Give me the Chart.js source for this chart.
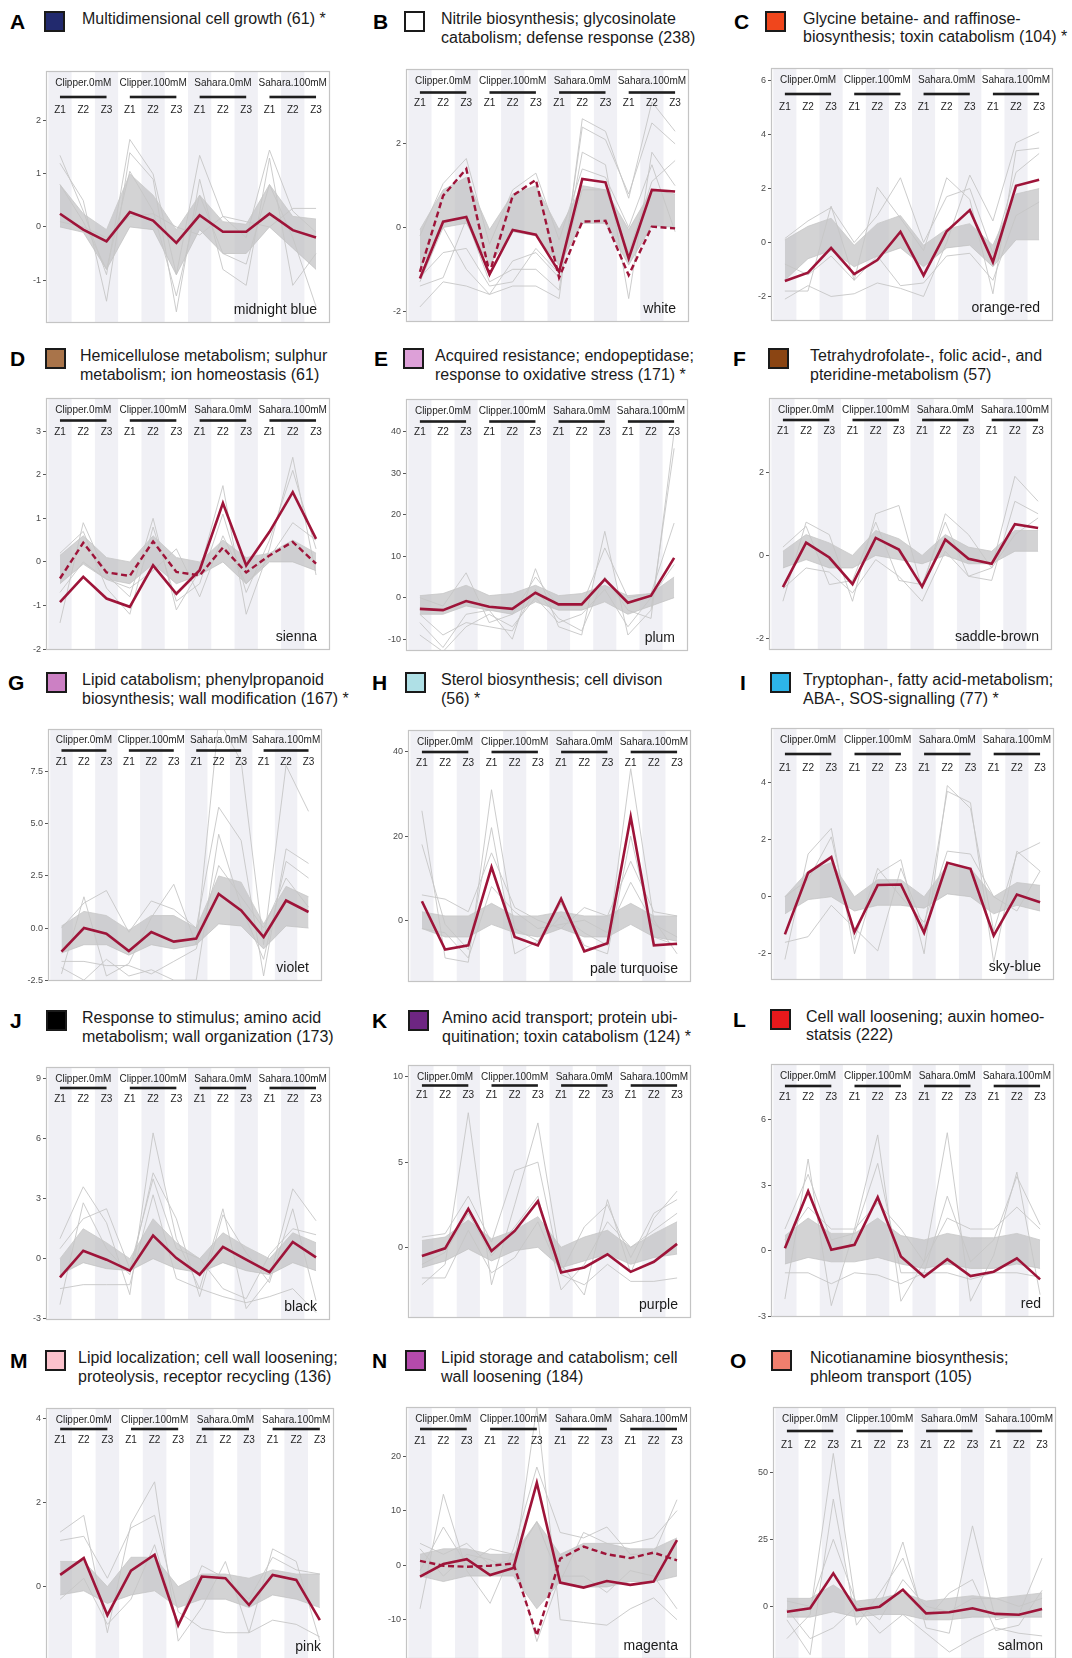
<!DOCTYPE html>
<html><head><meta charset="utf-8">
<script src="https://cdn.jsdelivr.net/npm/chart.js@4.4.1/dist/chart.umd.min.js"></script>
<style>
body{margin:0;width:1072px;height:1658px;overflow:hidden;background:#fff;position:relative;font-family:"Liberation Sans",Arial,sans-serif}
.letter{position:absolute;font-weight:bold;font-size:21px;line-height:22px;color:#000}
.sw{position:absolute;width:17px;height:17px;border:2px solid #1a1a1a}
.ttl{position:absolute;font-size:16px;line-height:18.5px;color:#1a1a1a;white-space:nowrap}
.wrap{position:absolute}
</style></head><body>
<script>
// ---------- shared axis data ----------
const categories = ['Z1','Z2','Z3','Z1','Z2','Z3','Z1','Z2','Z3','Z1','Z2','Z3'];
const groups = ['Clipper.0mM','Clipper.100mM','Sahara.0mM','Sahara.100mM'];

// ---------- A midnight blue ----------
const redA  = [0.25,-0.05,-0.27,0.28,0.12,-0.30,0.22,-0.09,-0.09,0.25,-0.06,-0.20];
const hiA   = [0.8,0.25,-0.05,1.0,0.6,-0.05,0.6,0.1,0.05,0.8,0.2,0.15];
const loA   = [0.0,-0.1,-0.8,0.0,-0.05,-0.9,-0.05,-0.5,-0.5,0.0,-0.4,-0.8];
const greyA = [[1.35,0.3,-0.9,1.65,1.0,-0.9,1.35,0.2,-0.2,1.45,0.3,-0.1],
               [1.2,0.5,-1.4,1.4,0.9,-1.6,0.9,-0.8,-1.1,1.3,-1.1,-0.5],
               [0.8,0.1,-0.8,1.05,0.3,-1.3,0.6,-0.5,-0.7,0.8,-0.2,-1.5],
               [0.1,0.0,-0.2,0.2,0.25,0.0,-0.15,0.2,0.1,0.0,0.35,0.35]];
const ticksA = [-1,0,1,2];

// ---------- B white ----------
const redB  = [-1.22,0.14,0.25,-1.12,-0.06,-0.17,-1.06,1.16,1.08,-0.74,0.90,0.86];
const dashB = [-1.06,0.76,1.40,-1.09,0.76,1.14,-1.20,0.14,0.16,-1.14,0.02,-0.02];
const hiB   = [-0.05,0.9,1.2,-0.05,0.8,1.0,-0.05,1.0,0.9,-0.05,0.9,0.8];
const loB   = [-1.0,0.0,0.1,-0.9,-0.1,-0.2,-0.9,0.1,0.1,-0.9,0.05,0.0];
const greyB = [[-1.9,-1.3,-1.4,-1.6,-1.4,-1.4,-1.7,2.6,2.3,0.7,3.0,2.3],
               [-1.4,-1.2,0.2,-1.3,-1.0,-1.0,-1.5,2.4,2.1,0.8,2.5,2.0],
               [-1.3,0.0,-1.0,-1.6,-0.8,-0.6,-1.2,1.8,1.5,-1.7,1.8,1.0],
               [-0.2,1.05,1.65,-0.4,0.9,1.3,-0.3,1.4,1.2,0.0,1.5,-0.1],
               [-1.2,-0.6,-0.5,-1.4,-1.3,-0.5,-1.1,0.9,0.9,-0.6,1.1,1.6]];
const ticksB = [-2,0,2];

// ---------- C orange-red ----------
const redC  = [-1.43,-1.12,-0.20,-1.17,-0.65,0.40,-1.22,0.42,1.20,-0.72,2.10,2.33];
const hiC   = [0.1,0.6,0.9,-0.1,0.7,1.0,-0.1,0.5,0.7,-0.1,1.8,2.0];
const loC   = [-1.4,-0.6,-0.3,-0.9,-0.5,-0.2,-0.9,-0.2,-0.1,-0.9,0.1,0.1];
const greyC = [[-2.1,-1.6,-2.0,-1.9,-1.5,-1.7,-2.0,0.0,2.5,0.8,3.7,4.1],
               [-1.8,-1.8,1.35,-1.4,2.05,0.9,-0.3,2.4,1.6,-1.9,3.4,3.5],
               [0.15,0.8,1.3,0.0,1.0,2.4,0.0,1.7,2.0,-0.4,2.6,3.3],
               [-0.8,-1.2,-0.5,-1.4,-0.5,-1.6,-1.5,-0.5,-0.4,-1.4,1.0,1.5]];
const ticksC = [-2,0,2,4,6];

// ---------- D sienna ----------
const redD  = [-0.92,-0.34,-0.84,-1.03,-0.08,-0.73,-0.19,1.35,-0.08,0.69,1.60,0.53];
const dashD = [-0.38,0.44,-0.24,-0.32,0.47,-0.23,-0.31,0.33,-0.24,0.15,0.46,-0.04];
const hiD   = [0.15,0.6,0.1,0.0,0.6,0.1,0.0,0.5,0.1,0.2,0.5,0.2];
const loD   = [-0.5,-0.05,-0.4,-0.5,-0.05,-0.5,-0.3,0.0,-0.5,0.0,0.0,-0.2];
const greyD = [[-1.4,0.9,-0.3,-0.8,1.0,-1.1,-0.2,1.75,-1.2,0.3,2.4,-0.3],
               [0.2,0.7,-0.6,-1.2,0.8,-0.9,-0.5,1.1,-0.7,0.5,2.1,0.3],
               [-0.7,0.0,-0.4,-0.6,-0.2,0.3,-0.8,0.6,-0.5,0.1,0.9,0.5]];
const ticksD = [-2,-1,0,1,2,3];

// ---------- E plum ----------
const redE  = [-2.7,-3.0,-0.8,-2.2,-2.7,1.2,-1.6,-1.6,4.4,-1.2,0.5,9.6];
const hiE   = [0.5,1,3,0.5,1,3,0.5,1,3,0.5,1,5];
const loE   = [-4,-4,-2,-3,-4,-1,-3,-3,-1,-4,-2,0];
const greyE = [[-4,-9,-6,-7,-8,2,-5,-8,5,-3,-5,40],
               [-6,-12,-4,-3,-10,7,-7,-9,16,-9,-3,36],
               [0,-2,6,-6,-4,5,-2,-2,12,0,1,18],
               [-9,-13,-7,-4,-7,0,-6,-4,2,-7,0,8]];
const ticksE = [-10,0,10,20,30,40];

// ---------- F saddle-brown ----------
const redF  = [-0.76,0.31,-0.05,-0.69,0.42,0.14,-0.75,0.38,-0.08,-0.20,0.75,0.66];
const hiF   = [0.1,0.5,0.3,0.0,0.6,0.4,0.0,0.5,0.2,0.1,0.6,0.6];
const loF   = [-0.3,-0.1,-0.3,-0.3,0.0,-0.1,-0.2,0.0,-0.2,-0.2,0.1,0.1];
const greyF = [[-1.1,0.8,0.5,-1.1,1.0,1.2,-0.8,1.0,0.5,-0.3,1.9,1.3],
               [0.2,0.7,-0.7,-0.6,0.8,-0.6,-0.7,0.8,-0.5,-0.6,1.3,1.0],
               [-0.8,-0.3,-0.4,-0.9,-0.1,-0.5,-1.1,0.1,-0.5,-0.3,0.5,0.9]];
const ticksF = [-2,0,2];

// ---------- G violet ----------
const redG  = [-1.13,0.0,-0.27,-1.10,-0.19,-0.65,-0.50,1.64,0.85,-0.43,1.32,0.77];
const hiG   = [0.1,0.8,0.6,-0.1,0.6,0.6,0.0,2.5,2.2,0.2,2.0,1.5];
const loG   = [-1.2,-0.8,-0.8,-1.3,-0.8,-1.0,-0.8,0.2,0.1,-1.0,0.1,0.0];
const greyG = [[-2.2,1.5,-2.3,-1.7,0.5,2.1,-0.8,10.0,8.0,-0.8,7.8,5.6],
               [0.0,1.2,1.8,-0.2,1.3,0.9,0.0,5.8,4.2,-2.3,3.8,3.1],
               [-1.9,-2.5,-1.5,-2.3,-2.0,-2.5,-2.5,4.5,1.0,-1.5,3.2,2.4],
               [-1.6,-1.6,-1.8,-1.8,-2.2,-1.6,-1.0,3.0,1.5,0.0,2.4,1.0]];
const ticksG = [-2.5,0,2.5,5,7.5];

// ---------- H pale turquoise ----------
const redH  = [4.5,-7.0,-6.0,12.6,-4.0,-6.0,5.1,-7.4,-5.5,24.6,-6.0,-5.6];
const hiH   = [2,1,1,4,1,1,2,1,1,4,1,1];
const loH   = [-2,-4,-4,-1,-3,-4,-2,-4,-4,-1,-4,-5];
const greyH = [[26,-9,-10,31,-2,-5,1,-3,-6,36,0,-8],
               [18,-1,-7,22,-8,-5,4,-6,-8,20,-4,-6],
               [6,5,2,16,3,0,-2,3,1,14,2,1],
               [-2,-3,-9,8,2,-2,-1,0,-3,9,-1,-4]];
const ticksH = [0,20,40];

// ---------- I sky-blue ----------
const redI  = [-1.32,0.84,1.39,-1.24,0.41,0.43,-1.26,1.19,0.98,-1.36,0.08,-0.19];
const hiI   = [0.0,0.9,1.2,0.0,0.6,0.6,0.0,1.1,1.0,0.0,0.5,0.4];
const loI   = [-0.6,-0.1,0.0,-0.5,-0.3,-0.3,-0.4,0.1,0.0,-0.6,-0.3,-0.5];
const greyI = [[-2.2,1.5,2.4,-2.0,0.8,1.3,-2.0,3.9,3.1,-1.2,1.5,1.9],
               [-1.6,-1.4,-0.3,-1.1,-1.9,1.0,-1.1,3.7,3.3,-2.3,1.6,0.9],
               [0.0,0.6,2.1,-1.5,1.0,0.0,-0.9,1.6,1.5,0.0,-0.5,0.9]];
const ticksI = [-2,0,2,4];

// ---------- J black ----------
const redJ  = [-0.94,0.40,-0.05,-0.60,1.16,0.03,-0.80,0.59,-0.05,-0.67,0.84,0.07];
const hiJ   = [0.0,1.5,0.8,0.0,2.0,0.8,0.0,1.3,0.6,0.0,1.3,0.8];
const loJ   = [-0.8,-0.2,-0.5,-0.6,0.0,-0.5,-0.7,-0.2,-0.6,-0.8,-0.2,-0.6];
const greyJ = [[1.0,3.6,1.8,-1.8,6.3,1.0,-1.5,2.5,-2.5,-1.0,3.5,1.9],
               [-2.3,2.8,0.5,-0.8,4.3,2.0,-1.9,2.2,0.3,-1.2,2.5,-2.1],
               [-1.5,-1.3,-1.3,-1.3,3.2,-1.0,-1.5,-1.9,-2.2,-1.9,-1.5,-2.7],
               [0.5,2.0,2.5,-0.5,4.0,0.5,0.0,-1.5,-2.0,0.2,1.5,1.2]];
const ticksJ = [-3,0,3,6,9];

// ---------- K purple ----------
const redK  = [-0.51,-0.06,2.26,-0.22,0.96,2.70,-1.48,-1.18,-0.41,-1.44,-0.85,0.20];
const hiK   = [0.4,0.6,1.6,0.5,1.0,1.8,0.0,0.6,1.0,0.0,0.8,1.5];
const loK   = [-1.2,-0.8,-0.1,-0.8,-0.2,0.0,-1.2,-0.8,-0.4,-1.0,-0.6,-0.4];
const greyK = [[-2.2,-1.0,7.9,-2.2,2.5,7.3,-1.0,-2.8,2.8,-1.5,1.7,3.3],
               [0.6,0.8,3.0,0.3,4.5,5.0,-1.5,1.2,2.5,-0.6,2.0,2.8],
               [-1.8,-1.8,1.0,-1.5,-0.6,1.5,-1.6,-2.2,-1.0,-2.0,-2.0,-1.8],
               [-1.0,-0.3,2.0,-0.5,1.2,3.0,-2.5,-1.0,1.5,0.0,1.0,2.0]];
const ticksK = [0,5,10];

// ---------- L red ----------
const redL  = [0.12,2.73,0.05,0.28,2.45,-0.26,-1.18,-0.38,-1.15,-0.95,-0.34,-1.30];
const hiL   = [0.7,1.5,0.8,0.8,1.5,0.7,0.5,0.8,0.6,0.6,0.8,0.5];
const loL   = [-0.6,-0.3,-0.5,-0.5,-0.3,-0.6,-0.8,-0.6,-0.8,-0.8,-0.6,-0.8];
const greyL = [[-2.2,4.2,-2.5,1.0,5.3,-2.3,-0.5,5.4,-2.3,-0.2,3.6,-2.0],
               [1.0,3.5,0.5,0.8,4.0,-1.0,-1.0,2.5,-0.5,0.5,3.4,1.2],
               [-1.0,-1.0,-1.5,-1.0,-1.1,-1.5,-1.0,-1.0,-1.3,-1.0,-1.0,-1.2],
               [0.5,2.0,1.0,1.0,2.2,1.0,-0.5,1.5,1.0,1.0,2.0,1.0]];
const ticksL = [-3,0,3,6];

// ---------- M pink ----------
const redM  = [0.28,0.68,-0.68,0.38,0.76,-0.92,0.24,0.20,-0.44,0.28,0.16,-0.80];
const hiM   = [0.6,0.6,0.0,0.7,0.7,0.0,0.3,0.3,0.2,0.4,0.3,0.3];
const loM   = [-0.2,-0.1,-0.4,-0.2,-0.1,-0.5,-0.3,-0.3,-0.5,-0.2,-0.3,-0.5];
const greyM = [[1.3,1.7,-1.1,1.5,2.5,-1.3,-0.5,0.6,-1.1,0.9,0.6,-1.3],
               [1.1,1.2,0.2,1.4,1.7,-0.6,-1.0,-1.1,-1.1,-0.8,-0.9,-1.2],
               [-0.3,0.2,-0.9,-0.3,1.0,-0.9,0.5,0.2,-0.3,0.7,0.4,0.3]];
const ticksM = [0,2,4];

// ---------- N magenta ----------
const redN  = [-2.1,0.2,1.1,-1.8,-0.5,15.1,-3.2,-4.1,-2.9,-3.6,-3.0,4.6];
const dashN = [0.8,-0.1,-0.3,-0.1,0.3,-12.9,1.2,3.4,2.0,1.3,2.3,0.9];
const hiN   = [2,3,3,2,2,8,2,4,4,3,3,5];
const loN   = [-2,-3,-2,-2,-2,-8,-3,-4,-4,-3,-3,-2];
const greyN = [[-8,13,-1,-7,3,18,6,5,7,2,2,12],
               [3,-2,2,1,-1,29,-10,-10.5,-11,-8,-6,-10],
               [-1,7,0,3,2,-14,-2,-2,-5,-1,-2,-8],
               [4,2,4,0,1,8,-3,6,4,4,5,10]];
const ticksN = [-10,0,10,20];

// ---------- O salmon ----------
const redO  = [-2.0,-0.7,12.3,-1.4,-0.1,6.2,-2.6,-2.2,-0.7,-2.8,-3.1,-1.0];
const hiO   = [3,3,8,2,3,5,2,3,4,3,4,5];
const loO   = [-4,-4,-2,-4,-3,-3,-5,-5,-4,-4,-4,-4];
const greyO = [[-12,-3,57,-2,0,24,-8,-10,30,-5,-3,18],
               [-5,-18,40,-7,5,18,-5,5,10,-9,-7,6],
               [-1,-12,-8,0,-10,-3,-10,-17,-12,-8,-10,-11],
               [2,0,25,1,-5,10,0,-2,3,3,0,3]];
const ticksO = [0,25,50];

// ---------- panel layout / styling ----------
const panels = [
 {id:'A',red:redA,hi:hiA,lo:loA,grey:greyA,ticks:ticksA,dec:0,ymin:-1.81,ymax:2.94,name:'midnight blue',sw:'#222a6e',
  title:['Multidimensional cell growth (61) *'],box:[46,71,330,323],lx:10,sx:44,tx:82,ty:10,hdr:[12,26,39]},
 {id:'B',red:redB,dash:dashB,hi:hiB,lo:loB,grey:greyB,ticks:ticksB,dec:0,ymin:-2.26,ymax:3.79,name:'white',sw:'#ffffff',
  title:['Nitrile biosynthesis; glycosinolate','catabolism; defense response (238)'],box:[406,69,689,322],lx:373,sx:404,tx:441,ty:10,hdr:[12.5,23.5,34.5]},
 {id:'C',red:redC,hi:hiC,lo:loC,grey:greyC,ticks:ticksC,dec:0,ymin:-2.91,ymax:6.47,name:'orange-red',sw:'#f0461c',
  title:['Glycine betaine- and raffinose-','biosynthesis; toxin catabolism (104) *'],box:[771,68,1053,321],lx:734,sx:765,tx:803,ty:9.5,hdr:[12,26,39]},
 {id:'D',red:redD,dash:dashD,hi:hiD,lo:loD,grey:greyD,ticks:ticksD,dec:0,ymin:-2.02,ymax:3.76,name:'sienna',sw:'#a9744a',
  title:['Hemicellulose metabolism; sulphur','metabolism; ion homeostasis (61)'],box:[46,398,330,650],lx:10,sx:45,tx:80,ty:347,hdr:[12,22.5,34]},
 {id:'E',red:redE,hi:hiE,lo:loE,grey:greyE,ticks:ticksE,dec:0,ymin:-12.85,ymax:47.9,name:'plum',sw:'#dda0d8',
  title:['Acquired resistance; endopeptidase;','response to oxidative stress (171) *'],box:[406,399,688,651],lx:374,sx:403,tx:435,ty:347,hdr:[12.5,22.5,33]},
 {id:'F',red:redF,hi:hiF,lo:loF,grey:greyF,ticks:ticksF,dec:0,ymin:-2.27,ymax:3.78,name:'saddle-brown',sw:'#8b4513',
  title:['Tetrahydrofolate-, folic acid-, and','pteridine-metabolism (57)'],box:[769,398,1052,650],lx:733,sx:768,tx:810,ty:347,hdr:[12,22,33]},
 {id:'G',red:redG,hi:hiG,lo:loG,grey:greyG,ticks:ticksG,dec:1,ymin:-2.54,ymax:9.55,name:'violet',sw:'#cc80c4',
  title:['Lipid catabolism; phenylpropanoid','biosynthesis; wall modification (167) *'],box:[48,729,322,981],lx:8,sx:46,tx:82,ty:671,hdr:[11.5,21.5,33]},
 {id:'H',red:redH,hi:hiH,lo:loH,grey:greyH,ticks:ticksH,dec:0,ymin:-14.7,ymax:45.2,name:'pale turquoise',sw:'#afe0e6',
  title:['Sterol biosynthesis; cell divison','(56) *'],box:[408,730,691,982],lx:372,sx:405,tx:441,ty:671,hdr:[12,22,33.5]},
 {id:'I',red:redI,hi:hiI,lo:loI,grey:greyI,ticks:ticksI,dec:0,ymin:-2.92,ymax:5.92,name:'sky-blue',sw:'#2db4e8',
  title:['Tryptophan-, fatty acid-metabolism;','ABA-, SOS-signalling (77) *'],box:[771,728,1054,980],lx:740,sx:770,tx:803,ty:671,hdr:[12,26,40]},
 {id:'J',red:redJ,hi:hiJ,lo:loJ,grey:greyJ,ticks:ticksJ,dec:0,ymin:-3.07,ymax:9.6,name:'black',sw:'#000000',
  title:['Response to stimulus; amino acid','metabolism; wall organization (173)'],box:[46,1067,330,1320],lx:10,sx:46,tx:82,ty:1009,hdr:[12,21,32]},
 {id:'K',red:redK,hi:hiK,lo:loK,grey:greyK,ticks:ticksK,dec:0,ymin:-4.15,ymax:10.7,name:'purple',sw:'#6e2682',
  title:['Amino acid transport; protein ubi-','quitination; toxin catabolism (124) *'],box:[408,1065,691,1318],lx:372,sx:408,tx:442,ty:1009,hdr:[12,20.5,30]},
 {id:'L',red:redL,hi:hiL,lo:loL,grey:greyL,ticks:ticksL,dec:0,ymin:-3.02,ymax:8.54,name:'red',sw:'#e8191c',
  title:['Cell wall loosening; auxin homeo-','statsis (222)'],box:[771,1064,1054,1317],lx:733,sx:770,tx:806,ty:1007.5,hdr:[12,22,33]},
 {id:'M',red:redM,hi:hiM,lo:loM,grey:greyM,ticks:ticksM,dec:0,ymin:-1.75,ymax:4.26,name:'pink',sw:'#fbc2cc',
  title:['Lipid localization; cell wall loosening;','proteolysis, receptor recycling (136)'],box:[46,1408,334,1660],lx:10,sx:45,tx:78,ty:1349,hdr:[12,21,32]},
 {id:'N',red:redN,dash:dashN,hi:hiN,lo:loN,grey:greyN,ticks:ticksN,dec:0,ymin:-17.2,ymax:29.0,name:'magenta',sw:'#b44aac',
  title:['Lipid storage and catabolism; cell','wall loosening (184)'],box:[406,1407,691,1659],lx:372,sx:405,tx:441,ty:1349,hdr:[12,22,34]},
 {id:'O',red:redO,hi:hiO,lo:loO,grey:greyO,ticks:ticksO,dec:0,ymin:-19.6,ymax:74.3,name:'salmon',sw:'#f07f6e',
  title:['Nicotianamine biosynthesis;','phleom transport (105)'],box:[773,1407,1056,1659],lx:730,sx:771,tx:810,ty:1349,hdr:[12,24,38]}
];

const FONT = '"Liberation Sans", Arial, sans-serif';
const RED = '#9e1439';
Chart.defaults.font.family = FONT;

function addText(p){
  const L = document.createElement('div'); L.className='letter'; L.textContent=p.id;
  L.style.left=p.lx+'px'; L.style.top=(p.ty+1)+'px'; document.body.appendChild(L);
  const S = document.createElement('div'); S.className='sw'; S.style.background=p.sw;
  S.style.left=p.sx+'px'; S.style.top=(p.ty+1)+'px'; document.body.appendChild(S);
  const T = document.createElement('div'); T.className='ttl';
  T.style.left=p.tx+'px'; T.style.top=p.ty+'px';
  p.title.forEach((line,i)=>{ if(i) T.appendChild(document.createElement('br')); T.appendChild(document.createTextNode(line)); });
  document.body.appendChild(T);
}

function makePanel(p){
  addText(p);
  const [L,T,R,B] = p.box;
  const padL=34, padT=10, padB=10, padR=2;
  const W = R-L+padL+padR, H = B-T+padT+padB;
  const wrap = document.createElement('div'); wrap.className='wrap';
  wrap.style.left=(L-padL)+'px'; wrap.style.top=(T-padT)+'px';
  wrap.style.width=W+'px'; wrap.style.height=H+'px';
  const cv = document.createElement('canvas'); cv.width=W; cv.height=H;
  cv.style.width=W+'px'; cv.style.height=H+'px';
  wrap.appendChild(cv); document.body.appendChild(wrap);

  const pts = a => a.map((v,i)=>({x:i,y:v}));
  // lower "order" is drawn on top in Chart.js
  const ds = [];
  ds.push({data:pts(p.lo),borderColor:'#c8c8c8',borderWidth:0.8,fill:false,order:10});
  ds.push({data:pts(p.hi),borderColor:'#c8c8c8',borderWidth:0.8,fill:'-1',backgroundColor:'rgba(190,190,192,0.68)',order:9});
  p.grey.forEach(g=>ds.push({data:pts(g),borderColor:'#c6c6c6',borderWidth:0.9,fill:false,order:5}));
  if(p.dash) ds.push({data:pts(p.dash),borderColor:RED,borderWidth:2.4,borderDash:[6,3.5],fill:false,order:1});
  ds.push({data:pts(p.red),borderColor:RED,borderWidth:2.6,fill:false,order:0});

  const stripes = {id:'stripes', beforeDatasetsDraw(ch){
    const {ctx,chartArea:a,scales:{x}} = ch;
    ctx.save(); ctx.fillStyle='#f0f0f5';
    for(let i=0;i<categories.length;i+=2){
      const x0=x.getPixelForValue(i-0.5), x1=x.getPixelForValue(i+0.5);
      ctx.fillRect(x0,a.top,x1-x0,a.bottom-a.top);
    }
    ctx.restore();
  }};
  const overlay = {id:'overlay', afterDatasetsDraw(ch){
    const {ctx,chartArea:a,scales:{x}} = ch;
    ctx.save();
    ctx.fillStyle='#1e1e1e'; ctx.textAlign='center'; ctx.textBaseline='middle';
    ctx.font='10px '+FONT;
    groups.forEach((g,k)=>{
      ctx.fillText(g, x.getPixelForValue(3*k+1), a.top+p.hdr[0]);
      const x0=x.getPixelForValue(3*k), x1=x.getPixelForValue(3*k+2);
      ctx.fillRect(x0, a.top+p.hdr[1]-1.3, x1-x0, 2.6);
    });
    categories.forEach((c,i)=>ctx.fillText(c, x.getPixelForValue(i), a.top+p.hdr[2]));
    ctx.font='14px '+FONT; ctx.textAlign='right'; ctx.fillStyle='#1a1a1a';
    ctx.fillText(p.name, a.right-13, a.bottom-13);
    ctx.strokeStyle='#c4c4c4'; ctx.lineWidth=1.2;
    ctx.strokeRect(a.left+0.5,a.top+0.5,a.right-a.left-1,a.bottom-a.top-1);
    ctx.restore();
  }};

  new Chart(cv,{type:'line',data:{datasets:ds},options:{
    responsive:false,animation:false,devicePixelRatio:1,
    layout:{padding:{top:padT,bottom:padB,right:padR,left:0}},
    plugins:{legend:{display:false},tooltip:{enabled:false}},
    elements:{point:{radius:0},line:{tension:0}},
    scales:{
      x:{type:'linear',min:-0.6,max:11.6,display:false},
      y:{type:'linear',min:p.ymin,max:p.ymax,
         afterFit(s){s.width=padL; s.paddingTop=0; s.paddingBottom=0;},
         afterBuildTicks(s){s.ticks=p.ticks.map(v=>({value:v}));},
         ticks:{callback:v=>Number(v).toFixed(p.dec),font:{size:9,family:FONT},color:'#4a4a4a',padding:2},
         grid:{drawOnChartArea:false,drawTicks:true,tickLength:3,color:'#555'},
         border:{display:false}}
    }},plugins:[stripes,overlay]});
}

panels.forEach(makePanel);
</script>
</body></html>
